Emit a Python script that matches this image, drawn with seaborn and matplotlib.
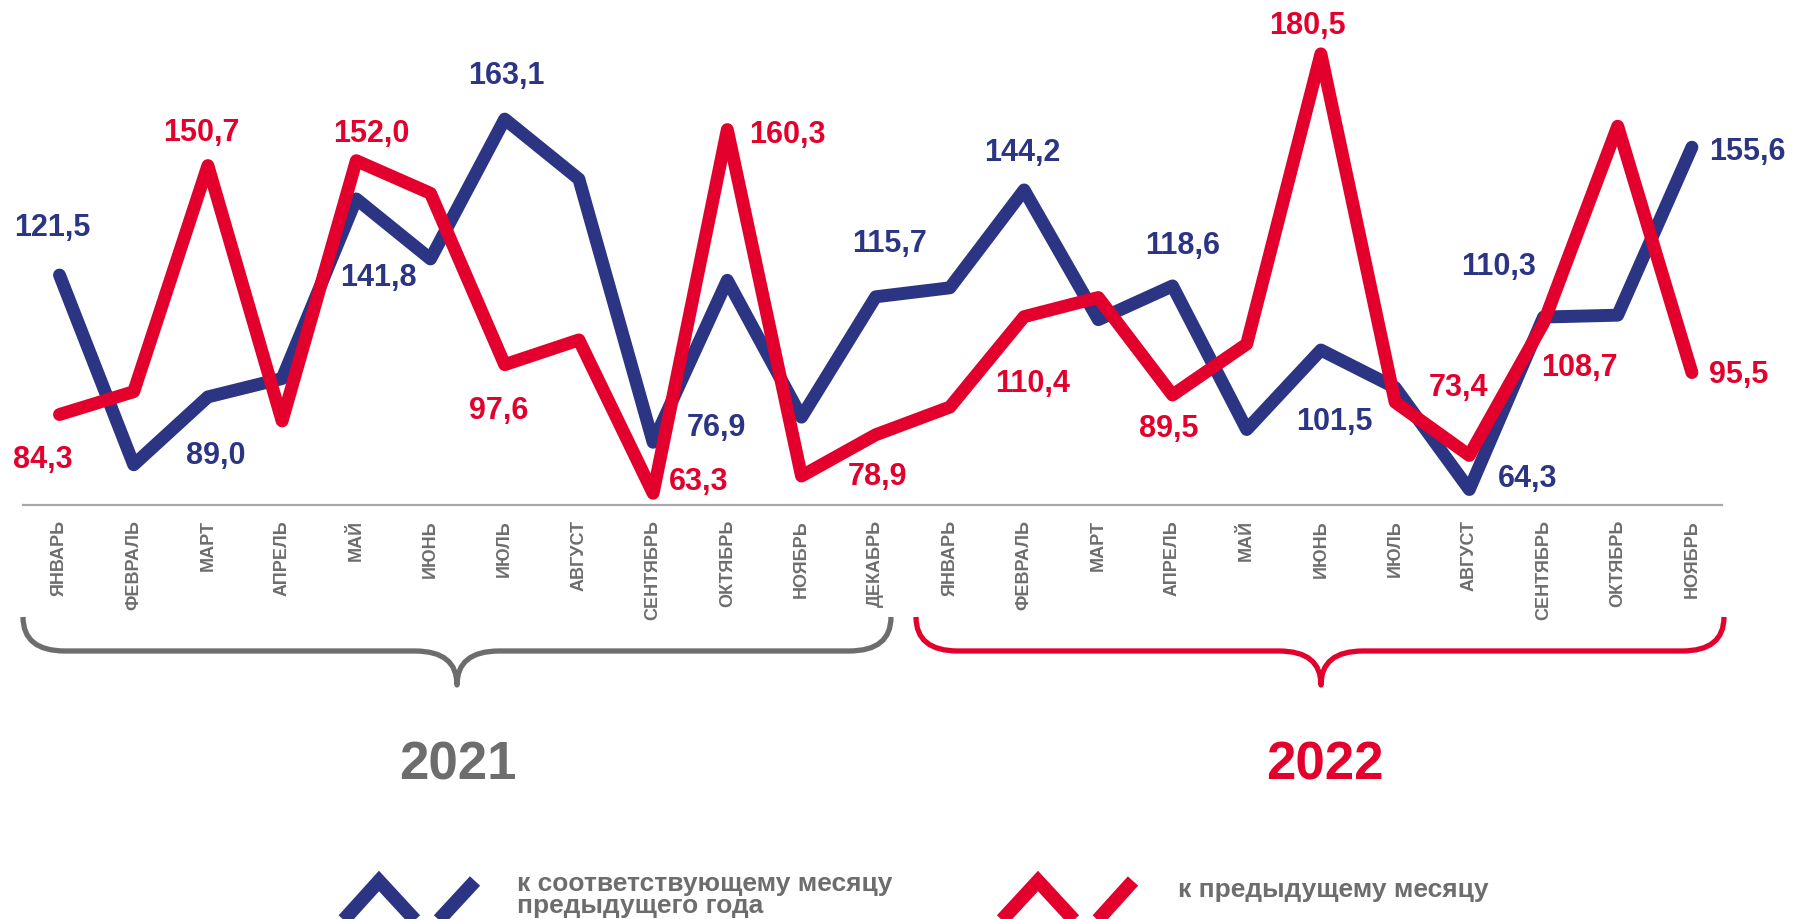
import numpy as np
import pandas as pd
import matplotlib
matplotlib.use("Agg")
import matplotlib.pyplot as plt
import seaborn as sns
from matplotlib.path import Path
from matplotlib.patches import PathPatch

# ---------------- data ----------------
months = ["ЯНВАРЬ", "ФЕВРАЛЬ", "МАРТ", "АПРЕЛЬ", "МАЙ", "ИЮНЬ", "ИЮЛЬ",
          "АВГУСТ", "СЕНТЯБРЬ", "ОКТЯБРЬ", "НОЯБРЬ", "ДЕКАБРЬ"]
tick_labels = months + months[:11]
years = ["2021", "2022"]

# к соответствующему месяцу предыдущего года
yoy = [121.5, 70.9, 89.0, 93.9, 141.8, 125.8, 163.1, 147.1, 76.9, 120.1, 83.6, 115.7,
       118.1, 144.2, 109.6, 118.6, 80.3, 101.5, 91.5, 64.3, 110.3, 110.8, 155.6]
# к предыдущему месяцу
mom = [84.3, 90.4, 150.7, 82.6, 152.0, 143.3, 97.6, 104.2, 63.3, 160.3, 67.9, 78.9,
       86.3, 110.4, 115.5, 89.5, 103.1, 180.5, 87.6, 73.4, 108.7, 161.2, 95.5]

series_names = ["к соответствующему месяцу\nпредыдущего года", "к предыдущему месяцу"]

# labelled points (index) for each series
yoy_lab_idx = [0, 2, 4, 6, 8, 11, 13, 15, 17, 19, 20, 22]
mom_lab_idx = [0, 2, 4, 6, 8, 9, 11, 13, 15, 17, 19, 20, 22]

# ---------------- style ----------------
BLUE = "#2B3584"
RED = "#E3002C"
GREY = "#6D6D6D"
AXGREY = "#A8A8A8"

# label offsets in points (layout only)
yoy_off = [(-5, 34.6), (6, -42), (16, -56), (1, 31.7), (45.7, 11), (10, 38.7), (-1.4, 27.4),
           (7.5, 29.5), (10, -51), (42, 8.6), (-32, 36.4), (40, -2.5)]
mom_off = [(-12, -32), (-4.7, 24.5), (10.8, 20), (-4, -32.5), (32.8, 9), (43.6, -3.2),
           (1.5, -29.5), (5.8, -48), (-3, -24), (-10, 21), (-7.5, 49), (26, -31.3), (34, -1)]

sns.set_theme(style="white")
plt.rcParams["font.family"] = ["Liberation Sans", "DejaVu Sans"]

W, H = 1794, 920
fig = plt.figure(figsize=(W / 100, H / 100), dpi=100)
fig.patch.set_facecolor("white")

axis_y = 506
ax = fig.add_axes([23 / W, 1 - axis_y / H, (1722 - 23) / W, axis_y / H])

n = len(yoy)
idx = np.arange(n)
df = pd.DataFrame({"x": np.concatenate([idx, idx]),
                   "v": yoy + mom,
                   "s": [series_names[0]] * n + [series_names[1]] * n})

sns.lineplot(data=df[df.s == series_names[0]], x="x", y="v", ax=ax, color=BLUE,
             linewidth=9.3, solid_joinstyle="round", solid_capstyle="round", zorder=3)
sns.lineplot(data=df[df.s == series_names[1]], x="x", y="v", ax=ax, color=RED,
             linewidth=9.3, solid_joinstyle="round", solid_capstyle="round", zorder=4)

# scale: 3.749 px per unit, 163.1 at 120.1 px from top
ppu = 3.749
top_v = 163.1 + 120.1 / ppu
bot_v = 163.1 - (axis_y - 120.1) / ppu
ax.set_ylim(bot_v, top_v)
ax.set_xlim((23 - 59.5) / 74.2, (1722 - 59.5) / 74.2)
ax.set_facecolor("none")

for s in ["top", "left", "right"]:
    ax.spines[s].set_visible(False)
ax.spines["bottom"].set_color(AXGREY)
ax.spines["bottom"].set_linewidth(1.6)
ax.set_yticks([])
ax.set_xticks(idx)
ax.set_xticklabels(tick_labels, rotation=90, fontsize=13, fontweight="bold",
                   color=GREY, va="top", ha="center")
ax.tick_params(axis="x", length=0, pad=10)
ax.set_xlabel("")
ax.set_ylabel("")
ax.grid(False)
leg = ax.get_legend()
if leg:
    leg.remove()


def fmt(v):
    return f"{v:.1f}".replace(".", ",")


for i, (dx, dy) in zip(yoy_lab_idx, yoy_off):
    ax.annotate(fmt(yoy[i]), (i, yoy[i]), xytext=(dx, dy), textcoords="offset points",
                ha="center", va="center", fontsize=22, fontweight="bold", color=BLUE,
                annotation_clip=False, zorder=5)
for i, (dx, dy) in zip(mom_lab_idx, mom_off):
    ax.annotate(fmt(mom[i]), (i, mom[i]), xytext=(dx, dy), textcoords="offset points",
                ha="center", va="center", fontsize=22, fontweight="bold", color=RED,
                annotation_clip=False, zorder=5)

# ---------------- overlay (braces, year labels, legend) ----------------
ov = fig.add_axes([0, 0, 1, 1])
ov.set_xlim(0, W)
ov.set_ylim(H, 0)
ov.axis("off")
ov.patch.set_alpha(0)


def brace(x0, x1, xt, ytop, ymid, ytip, r, color):
    verts = [(x0, ytop), (x0, ymid), (x0 + r, ymid),
             (xt - r, ymid),
             (xt, ymid), (xt, ytip),
             (xt, ymid), (xt + r, ymid),
             (x1 - r, ymid),
             (x1, ymid), (x1, ytop)]
    codes = [Path.MOVETO, Path.CURVE3, Path.CURVE3,
             Path.LINETO,
             Path.CURVE3, Path.CURVE3,
             Path.CURVE3, Path.CURVE3,
             Path.LINETO,
             Path.CURVE3, Path.CURVE3]
    ov.add_patch(PathPatch(Path(verts, codes), fill=False, edgecolor=color,
                           linewidth=3.8, capstyle="butt", joinstyle="round"))


brace(23, 891, 457, 618, 652, 686, 42, GREY)
brace(916, 1724, 1321, 618, 652, 686, 42, RED)

ov.text(458, 766, years[0], ha="center", va="center", fontsize=38, fontweight="bold", color=GREY)
ov.text(1325, 766, years[1], ha="center", va="center", fontsize=38, fontweight="bold", color=RED)

# legend icons
ov.plot([332, 379, 427, 475], [934, 882, 934, 882], color=BLUE, linewidth=10,
        solid_joinstyle="miter", solid_capstyle="butt")
ov.plot([990, 1038, 1086, 1133], [934, 882, 934, 882], color=RED, linewidth=10,
        solid_joinstyle="miter", solid_capstyle="butt")
ov.text(517, 895, series_names[0], ha="left", va="center", fontsize=19, fontweight="bold",
        color=GREY, linespacing=0.88)
ov.text(1178, 890, series_names[1], ha="left", va="center", fontsize=19, fontweight="bold",
        color=GREY)

fig.savefig("out.png", dpi=100, facecolor="white")
